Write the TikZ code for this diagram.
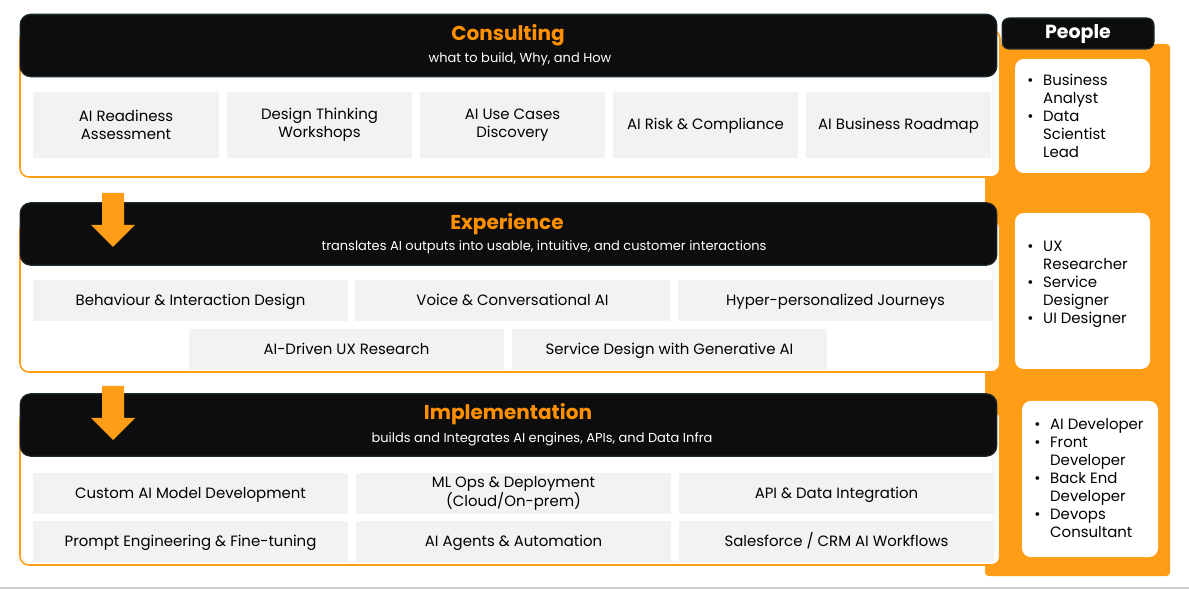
\documentclass[tikz,border=0pt]{standalone}
\usepackage{fontspec}
\setmainfont{Poppins}
\definecolor{brandorange}{HTML}{FF9E16}
\definecolor{titleorange}{HTML}{FF9000}
\definecolor{headblack}{HTML}{0D0D0D}
\definecolor{headedge}{HTML}{1C2B33}
\definecolor{tilegray}{HTML}{F2F2F2}
\newcommand{\role}{\textbullet}
\begin{document}
\begin{tikzpicture}[x=0.02cm,y=-0.02cm,
	headbar/.style={fill=headblack,draw=headedge,line width=.6pt,rounded corners=6pt,minimum width=19.54cm,minimum height=1.25cm},
	headtitle/.style={anchor=base,inner sep=0pt,text=titleorange,font=\fontsize{11.4}{13}\selectfont\bfseries},
	headsub/.style={anchor=base,inner sep=0pt,text=white,font=\fontsize{7.4}{9}\selectfont},
	panel/.style={fill=white,draw=brandorange,line width=.9pt,rounded corners=5pt},
	tile/.style={fill=tilegray,inner sep=0pt,align=center,font=\fontsize{8.5}{10.2}\selectfont},
	oneline/.style={text height=1.45ex,text depth=.45ex},
	cellC/.style={tile,minimum width=3.71cm,minimum height=1.32cm},
	cellW/.style={tile,minimum width=6.3cm,minimum height=0.82cm},
	rolebox/.style={fill=white,draw=none,rounded corners=5pt},
	roles/.style={anchor=west,inner sep=0pt,align=left,font=\fontsize{8.5}{10.2}\selectfont}]
	\useasboundingbox (0,0) rectangle (1189,590);
	\draw[black!18,line width=.8pt] (0,588) -- (1189,588);
	% people column
	\fill[brandorange,rounded corners=2pt] (985,44) rectangle (1170,576);
	\node[fill=headblack,draw=headedge,line width=.6pt,rounded corners=4pt,minimum width=3.04cm,minimum height=0.62cm] (peopleHead) at (1078,33.5) {};
	\node[inner sep=0pt,text=white,font=\fontsize{10.8}{12}\selectfont\bfseries] (peopleTitle) at (1078,34) {People};
	\draw[rolebox] (1015,59) rectangle (1150,173);
	\draw[rolebox] (1015,213) rectangle (1150,369);
	\draw[rolebox] (1022,401) rectangle (1158,557);
	\node[roles] (consRoles) at (1027,118) {\begin{tabular}{@{}l@{\hspace{5.5pt}}l@{}}\role & Business\\ & Analyst\\ \role & Data\\ & Scientist\\ & Lead\end{tabular}};
	\node[roles] (expRoles) at (1027,284) {\begin{tabular}{@{}l@{\hspace{5.5pt}}l@{}}\role & UX\\ & Researcher\\ \role & Service\\ & Designer\\ \role & UI Designer\end{tabular}};
	\node[roles] (implRoles) at (1034,480) {\begin{tabular}{@{}l@{\hspace{5.5pt}}l@{}}\role & AI Developer\\ \role & Front\\ & Developer\\ \role & Back End\\ & Developer\\ \role & Devops\\ & Consultant\end{tabular}};
	% consulting
	\draw[panel] (20,30) rectangle (1000,177);
	\node[headbar] (consHead) at (508.5,45.5) {};
	\node[headtitle] (consTitle) at (508,40.7) {Consulting};
	\node[headsub] (consSub) at (520,62.3) {what to build, Why, and How};
	\node[cellC] (consA) at (126,125) {AI Readiness\\Assessment};
	\node[cellC] (consB) at (319.5,125) {Design Thinking\\Workshops};
	\node[cellC] (consC) at (512.5,125) {AI Use Cases\\Discovery};
	\node[cellC,oneline] (consD) at (705.5,125) {AI Risk \& Compliance};
	\node[cellC,oneline] (consE) at (898.5,125) {AI Business Roadmap};
	% experience
	\draw[panel] (20,220) rectangle (1000,372);
	\node[headbar] (expHead) at (508.5,234) {};
	\node[headtitle] (expTitle) at (507,229.7) {Experience};
	\node[headsub] (expSub) at (544,250.8) {translates AI outputs into usable, intuitive, and customer interactions};
	\node[cellW,oneline] (expA) at (190.5,300.5) {Behaviour \& Interaction Design};
	\node[cellW,oneline] (expB) at (512.5,300.5) {Voice \& Conversational AI};
	\node[cellW,oneline] (expC) at (835.5,300.5) {Hyper-personalized Journeys};
	\node[cellW,oneline] (expD) at (346.5,349.5) {AI-Driven UX Research};
	\node[cellW,oneline] (expE) at (669.5,349.5) {Service Design with Generative AI};
	% implementation
	\draw[panel] (20,410) rectangle (1000,565);
	\node[headbar] (implHead) at (508.5,425) {};
	\node[headtitle] (implTitle) at (508,419.5) {Implementation};
	\node[headsub] (implSub) at (542,443) {builds and Integrates AI engines, APIs, and Data Infra};
	\node[cellW,oneline] (implA) at (190.5,493.5) {Custom AI Model Development};
	\node[cellW] (implB) at (513.5,493.5) {ML Ops \& Deployment\\(Cloud/On-prem)};
	\node[cellW,oneline] (implC) at (836.5,493.5) {API \& Data Integration};
	\node[cellW,oneline] (implD) at (190.5,541.5) {Prompt Engineering \& Fine-tuning};
	\node[cellW,oneline] (implE) at (513.5,541.5) {AI Agents \& Automation};
	\node[cellW,oneline] (implF) at (836.5,541.5) {Salesforce / CRM AI Workflows};
	% flow arrows
	\fill[brandorange] (102,193) -- (124,193) -- (124,225) -- (135,225) -- (113,247) -- (91,225) -- (102,225) -- cycle;
	\fill[brandorange] (102,386) -- (124,386) -- (124,418) -- (135,418) -- (113,440) -- (91,418) -- (102,418) -- cycle;
\end{tikzpicture}
\end{document}
